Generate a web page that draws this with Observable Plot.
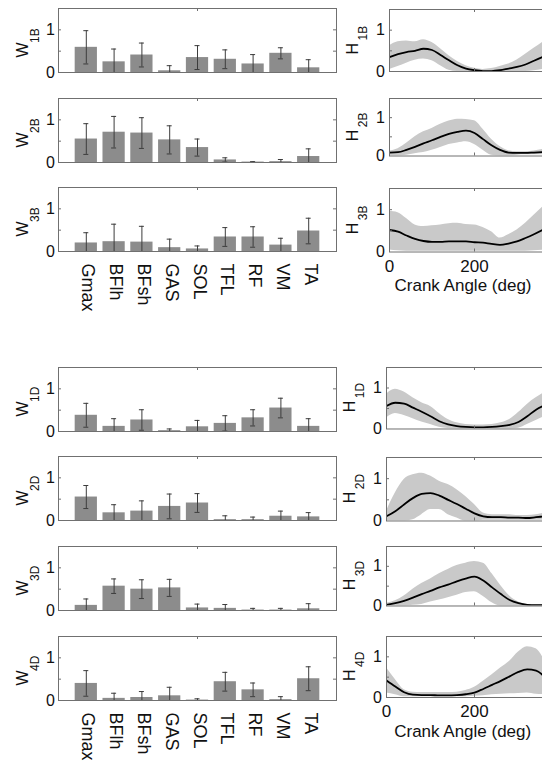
<!DOCTYPE html>
<html><head><meta charset="utf-8">
<script src="https://cdn.jsdelivr.net/npm/d3@7"></script>
<script src="https://cdn.jsdelivr.net/npm/@observablehq/plot@0.6"></script>
<style>
html,body{margin:0;padding:0;background:#fff;}
#fig{position:relative;width:542px;height:761px;overflow:hidden;background:#fff;}
#fig svg{position:absolute;}
</style></head><body><div id="fig"></div>
<script>
// ---------- data ----------
const MUSCLES = ["Gmax","BFlh","BFsh","GAS","SOL","TFL","RF","VM","TA"];
const Y_TICK_LABELS = [0, 1];
const Y_MINOR_TICKS = [0.5, 1];
const X_TICK_LABELS = [0, 200];
const ANGLES = [0,20,40,60,80,100,120,140,160,180,200,220,240,260,280,300,320,340,360];

const W1B_mean = [0.59,0.25,0.41,0.04,0.35,0.31,0.20,0.45,0.11];
const W1B_sd   = [0.39,0.30,0.28,0.12,0.28,0.22,0.22,0.13,0.19];
const W2B_mean = [0.55,0.71,0.69,0.53,0.35,0.06,0.01,0.02,0.14];
const W2B_sd   = [0.36,0.37,0.36,0.33,0.20,0.05,0.01,0.05,0.18];
const W3B_mean = [0.20,0.23,0.22,0.09,0.06,0.34,0.34,0.15,0.48];
const W3B_sd   = [0.24,0.41,0.37,0.20,0.07,0.22,0.24,0.16,0.30];
const W1D_mean = [0.38,0.12,0.27,0.02,0.11,0.19,0.32,0.55,0.12];
const W1D_sd   = [0.28,0.18,0.24,0.04,0.15,0.18,0.19,0.23,0.18];
const W2D_mean = [0.55,0.18,0.22,0.33,0.41,0.02,0.02,0.10,0.085];
const W2D_sd   = [0.27,0.19,0.24,0.29,0.22,0.09,0.06,0.12,0.10];
const W3D_mean = [0.12,0.57,0.50,0.53,0.06,0.05,0.01,0.01,0.04];
const W3D_sd   = [0.15,0.17,0.22,0.20,0.09,0.09,0.04,0.04,0.12];
const W4D_mean = [0.40,0.05,0.07,0.11,0.01,0.44,0.25,0.02,0.51];
const W4D_sd   = [0.30,0.12,0.14,0.20,0.03,0.22,0.16,0.07,0.28];

const H1B_mean = [0.35,0.42,0.47,0.50,0.55,0.52,0.40,0.27,0.15,0.07,0.03,0.01,0.01,0.03,0.07,0.11,0.17,0.26,0.35];
const H1B_hi   = [0.62,0.72,0.74,0.72,0.77,0.70,0.55,0.38,0.24,0.14,0.08,0.05,0.07,0.12,0.18,0.28,0.42,0.56,0.70];
const H1B_lo   = [0.05,0.12,0.20,0.27,0.30,0.26,0.14,0.03,0,0,0,0,0,0,0,0,0,0.02,0.05];
const H2B_mean = [0.09,0.10,0.16,0.24,0.33,0.41,0.50,0.58,0.63,0.66,0.60,0.44,0.28,0.16,0.09,0.08,0.08,0.09,0.10];
const H2B_hi   = [0.13,0.19,0.33,0.50,0.63,0.72,0.83,0.91,0.96,0.95,0.92,0.70,0.44,0.25,0.14,0.11,0.11,0.13,0.17];
const H2B_lo   = [0,0,0.02,0.06,0.09,0.15,0.22,0.30,0.34,0.37,0.30,0.15,0.02,0,0,0.02,0.03,0.03,0.03];
const H3B_mean = [0.52,0.48,0.39,0.31,0.26,0.24,0.24,0.25,0.25,0.25,0.23,0.22,0.19,0.17,0.20,0.25,0.33,0.42,0.52];
const H3B_hi   = [0.96,0.93,0.79,0.64,0.60,0.62,0.64,0.67,0.68,0.65,0.64,0.58,0.48,0.33,0.41,0.52,0.68,0.87,1.06];
const H3B_lo   = [0.05,0.03,0.02,0.02,0.02,0.02,0.02,0.02,0.02,0.02,0.02,0.02,0.02,0.02,0.02,0.02,0.02,0.03,0.04];
const H1D_mean = [0.56,0.64,0.62,0.52,0.42,0.31,0.19,0.11,0.07,0.05,0.04,0.04,0.05,0.07,0.10,0.17,0.31,0.47,0.58];
const H1D_hi   = [0.85,0.97,0.90,0.76,0.64,0.55,0.38,0.23,0.15,0.11,0.10,0.10,0.11,0.15,0.23,0.40,0.60,0.76,0.89];
const H1D_lo   = [0.27,0.38,0.33,0.25,0.17,0.11,0.04,0.01,0,0,0,0,0,0,0,0.02,0.11,0.21,0.31];
const H2D_mean = [0.11,0.23,0.39,0.54,0.64,0.66,0.60,0.50,0.40,0.29,0.18,0.11,0.09,0.09,0.08,0.08,0.07,0.09,0.11];
const H2D_hi   = [0.23,0.66,0.98,1.09,1.13,1.06,0.94,0.86,0.74,0.58,0.39,0.19,0.15,0.15,0.15,0.13,0.13,0.15,0.19];
const H2D_lo   = [0,0,0,0.03,0.15,0.27,0.27,0.15,0.07,0,0,0.02,0.02,0.02,0.02,0.02,0.02,0.02,0.02];
const H3D_mean = [0.03,0.07,0.13,0.21,0.30,0.38,0.47,0.54,0.62,0.69,0.74,0.64,0.47,0.30,0.15,0.07,0.03,0.02,0.02];
const H3D_hi   = [0.07,0.13,0.25,0.42,0.57,0.68,0.81,0.92,1.02,1.08,1.12,1.08,0.81,0.51,0.25,0.10,0.04,0.03,0.03];
const H3D_lo   = [0,0,0,0.02,0.04,0.10,0.15,0.21,0.27,0.34,0.36,0.24,0.08,0,0,0,0,0,0];
const H4D_mean = [0.42,0.27,0.13,0.07,0.06,0.06,0.05,0.05,0.06,0.08,0.12,0.21,0.31,0.41,0.52,0.63,0.69,0.66,0.50];
const H4D_hi   = [0.73,0.44,0.19,0.13,0.12,0.12,0.12,0.12,0.13,0.17,0.25,0.40,0.56,0.73,0.89,1.12,1.25,1.20,0.89];
const H4D_lo   = [0.11,0.07,0.02,0.02,0.02,0.02,0.02,0.02,0.02,0.02,0.03,0.04,0.07,0.08,0.09,0.10,0.11,0.08,0.07];

// ---------- layout & style ----------
const FONT = '"Liberation Sans", Arial, Helvetica, sans-serif';
const AXIS = "#707070", BAR = "#8c8c8c", ERR = "#3c3c3c", BAND = "#c9c9c9", TXT = "#111";
const fig = document.getElementById("fig");

const W_LAYOUT = [
  {letter:"W", sub:"1B", mean:W1B_mean, sd:W1B_sd, top:8, bottom:72},
  {letter:"W", sub:"2B", mean:W2B_mean, sd:W2B_sd, top:98, bottom:162},
  {letter:"W", sub:"3B", mean:W3B_mean, sd:W3B_sd, top:187, bottom:251, cats:true},
  {letter:"W", sub:"1D", mean:W1D_mean, sd:W1D_sd, top:367, bottom:431},
  {letter:"W", sub:"2D", mean:W2D_mean, sd:W2D_sd, top:456, bottom:520},
  {letter:"W", sub:"3D", mean:W3D_mean, sd:W3D_sd, top:546, bottom:610},
  {letter:"W", sub:"4D", mean:W4D_mean, sd:W4D_sd, top:636, bottom:700, cats:true}
];
const H_LAYOUT = [
  {letter:"H", sub:"1B", mean:H1B_mean, hi:H1B_hi, lo:H1B_lo, top:8.5, bottom:70.5, left:389, right:542},
  {letter:"H", sub:"2B", mean:H2B_mean, hi:H2B_hi, lo:H2B_lo, top:97.5, bottom:155, left:389, right:542},
  {letter:"H", sub:"3B", mean:H3B_mean, hi:H3B_hi, lo:H3B_lo, top:187.5, bottom:251, left:389, right:542, xticks:true},
  {letter:"H", sub:"1D", mean:H1D_mean, hi:H1D_hi, lo:H1D_lo, top:366.5, bottom:428, left:386, right:544.4},
  {letter:"H", sub:"2D", mean:H2D_mean, hi:H2D_hi, lo:H2D_lo, top:456.5, bottom:520, left:386, right:544.4},
  {letter:"H", sub:"3D", mean:H3D_mean, hi:H3D_hi, lo:H3D_lo, top:545.5, bottom:605, left:386, right:544.4},
  {letter:"H", sub:"4D", mean:H4D_mean, hi:H4D_hi, lo:H4D_lo, top:636, bottom:697, left:386, right:544.4, xticks:true}
];

function place(svg, left, top) {
  svg.style.left = left + "px";
  svg.style.top = top + "px";
  svg.style.background = "transparent";
  svg.style.maxWidth = "none";
  svg.style.overflow = "visible";
  fig.appendChild(svg);
}

function wPanel(p) {
  const L = 58, R = 336, ml = 58, mr = 4, mt = 6, mb = p.cats ? 60 : 4;
  const fw = R - L, fh = p.bottom - p.top;
  const data = MUSCLES.map((m, i) => ({muscle: m, mean: p.mean[i], lo: p.mean[i] - p.sd[i], hi: p.mean[i] + p.sd[i]}));
  const capInset = (fw / 10 * 0.8 - 5) / 2;
  const marks = [
    Plot.barY(data, {x: "muscle", y: "mean", fill: BAR}),
    Plot.ruleX(data, {x: "muscle", y1: "lo", y2: "hi", stroke: ERR, strokeWidth: 1, clip: true}),
    Plot.tickY(data, {x: "muscle", y: "hi", stroke: ERR, strokeWidth: 1, insetLeft: capInset, insetRight: capInset, clip: true}),
    Plot.tickY(data, {x: "muscle", y: "lo", stroke: ERR, strokeWidth: 1, insetLeft: capInset, insetRight: capInset, clip: true}),
    Plot.frame({stroke: AXIS, strokeWidth: 1}),
    Plot.tickY(Y_MINOR_TICKS, {y: d => d, stroke: AXIS, insetRight: fw - 3}),
    Plot.tickY(Y_MINOR_TICKS, {y: d => d, stroke: AXIS, insetLeft: fw - 3}),
    Plot.tickX(["SOL"], {x: d => d, stroke: AXIS, insetBottom: fh - 3}),
    Plot.text(Y_TICK_LABELS, {y: d => d, text: d => String(d), frameAnchor: "left", dx: -3.5, textAnchor: "end", fontSize: 16, fill: TXT}),
    Plot.text([p.letter], {text: d => d, frameAnchor: "left", rotate: -90, textAnchor: "start", dx: -35.3, dy: 17, fontSize: 16, fill: TXT}),
    Plot.text([p.sub], {text: d => d, frameAnchor: "left", rotate: -90, textAnchor: "start", dx: -23.5, dy: 2.5, fontSize: 12, fill: TXT})
  ];
  if (p.cats) marks.push(Plot.text(data, {x: "muscle", text: "muscle", frameAnchor: "bottom", dy: 12, dx: -4, rotate: 90, textAnchor: "start", fontSize: 18, fill: TXT}));
  const svg = Plot.plot({
    width: ml + fw + mr, height: mt + fh + mb,
    marginLeft: ml, marginRight: mr, marginTop: mt, marginBottom: mb,
    style: {fontFamily: FONT, background: "transparent"},
    x: {type: "band", domain: MUSCLES, paddingInner: 0.2, paddingOuter: 0.6, round: false, axis: null},
    y: {domain: [0, 1.5], axis: null},
    marks
  });
  place(svg, L - ml, p.top - mt);
}

function hPanel(p) {
  const ml = 60, mr = 1, mt = 6, mb = p.xticks ? 52 : 4;
  const fw = p.right - p.left, fh = p.bottom - p.top;
  const data = ANGLES.map((a, i) => ({a, m: p.mean[i], lo: p.lo[i], hi: p.hi[i]}));
  const marks = [
    Plot.areaY(data, {x: "a", y1: "lo", y2: "hi", fill: BAND, curve: "monotone-x", clip: true}),
    Plot.lineY(data, {x: "a", y: "m", stroke: "#000", strokeWidth: 1.8, curve: "monotone-x", clip: true}),
    Plot.frame({stroke: AXIS, strokeWidth: 1}),
    Plot.tickY(Y_MINOR_TICKS, {y: d => d, stroke: AXIS, insetRight: fw - 3}),
    Plot.tickX([200], {x: d => d, stroke: AXIS, insetBottom: fh - 3}),
    Plot.tickX([200], {x: d => d, stroke: AXIS, insetTop: fh - 3}),
    Plot.text(Y_TICK_LABELS, {y: d => d, text: d => String(d), frameAnchor: "left", dx: -4.5, textAnchor: "end", fontSize: 16, fill: TXT}),
    Plot.text([p.letter], {text: d => d, frameAnchor: "left", rotate: -90, textAnchor: "start", dx: -37, dy: 14, fontSize: 16, fill: TXT}),
    Plot.text([p.sub], {text: d => d, frameAnchor: "left", rotate: -90, textAnchor: "start", dx: -26.5, dy: 0, fontSize: 12, fill: TXT})
  ];
  if (p.xticks) {
    marks.push(Plot.text(X_TICK_LABELS, {x: d => d, text: d => String(d), frameAnchor: "bottom", dy: 7.5, lineAnchor: "top", fontSize: 17, fill: TXT}));
    marks.push(Plot.text(["Crank Angle (deg)"], {text: d => d, frameAnchor: "bottom", dy: 27, dx: -3, lineAnchor: "top", fontSize: 17, fill: TXT}));
  }
  const svg = Plot.plot({
    width: ml + fw + mr, height: mt + fh + mb,
    marginLeft: ml, marginRight: mr, marginTop: mt, marginBottom: mb,
    style: {fontFamily: FONT, background: "transparent"},
    x: {domain: [0, 360], axis: null},
    y: {domain: [0, 1.5], axis: null},
    marks
  });
  place(svg, p.left - ml, p.top - mt);
}

W_LAYOUT.forEach(wPanel);
H_LAYOUT.forEach(hPanel);
</script>
</body></html>
